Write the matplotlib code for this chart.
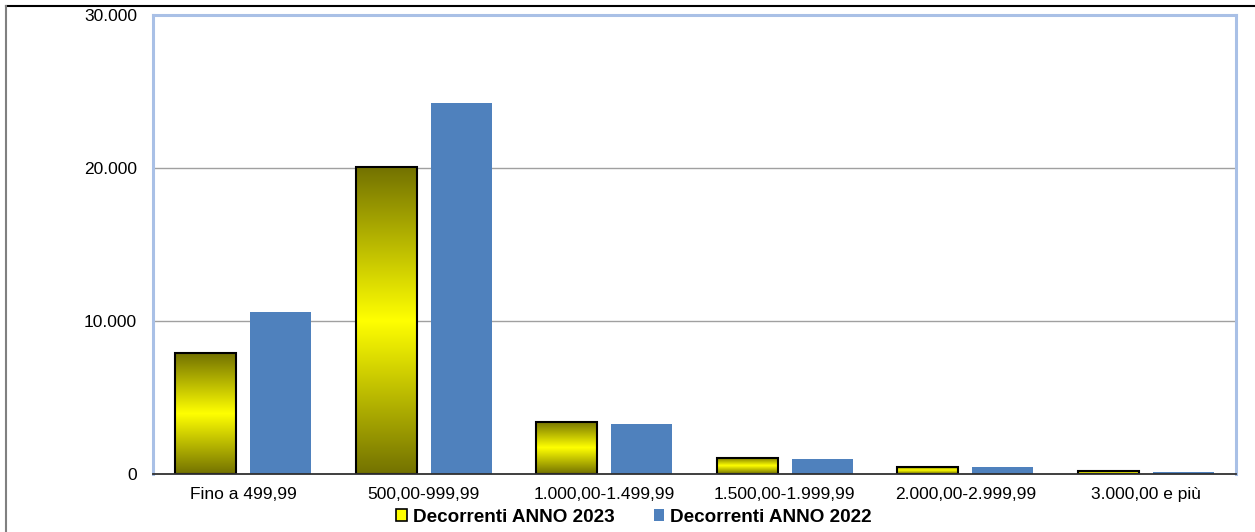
import matplotlib
matplotlib.use("Agg")
import matplotlib.pyplot as plt
import numpy as np
from matplotlib.colors import LinearSegmentedColormap
from matplotlib.patches import Patch
from matplotlib.lines import Line2D
from matplotlib.ticker import FuncFormatter

categories = ["Fino a 499,99", "500,00-999,99", "1.000,00-1.499,99",
              "1.500,00-1.999,99", "2.000,00-2.999,99", "3.000,00 e più"]
anno_2023 = [7900, 20050, 3400, 1050, 480, 180]
anno_2022 = [10600, 24250, 3300, 1000, 430, 150]
series_labels = ["Decorrenti ANNO 2023", "Decorrenti ANNO 2022"]
yticks = [0, 10000, 20000, 30000]

plt.rcParams['font.family'] = ['Liberation Sans', 'DejaVu Sans']

W, H = 1255, 532
fig = plt.figure(figsize=(W/100, H/100), dpi=100)
ax = fig.add_axes([153/W, 1-474/H, (1236-153)/W, (474-15)/H])

x = np.arange(len(categories))
bw = 0.34
off = 0.208

cmap = LinearSegmentedColormap.from_list("olive_yel", ["#737200", "#FFFF00", "#737200"])
grad = np.linspace(0, 1, 256).reshape(-1, 1)

bars23 = ax.bar(x - off, anno_2023, bw, facecolor='none', edgecolor='black', linewidth=1.5, zorder=4)
for b in bars23:
    x0, y0, w, h = b.get_x(), b.get_y(), b.get_width(), b.get_height()
    ax.imshow(grad, cmap=cmap, aspect='auto', extent=[x0, x0 + w, y0, y0 + h],
              origin='upper', zorder=3, interpolation='bilinear')
ax.bar(x + off, anno_2022, bw, color='#4F81BD', zorder=3)

ax.set_xlim(-0.5, len(categories) - 0.5)
ax.set_ylim(0, 30000)
ax.set_yticks(yticks)
ax.yaxis.set_major_formatter(FuncFormatter(lambda v, p: f"{int(v):,}".replace(",", ".")))
ax.set_xticks(x)
ax.set_xticklabels(categories)
ax.tick_params(axis='both', length=0, labelsize=12.5, colors='black')
ax.tick_params(axis='y', pad=11.5)
ax.tick_params(axis='x', pad=9.5)

for v in yticks[1:3]:
    ax.axhline(v, color='#A0A0A0', linewidth=1.0, zorder=1)

for s in ['left', 'top', 'right']:
    ax.spines[s].set_color('#A9C0E6')
    ax.spines[s].set_linewidth(2.2)
ax.spines['bottom'].set_color('#303030')
ax.spines['bottom'].set_linewidth(1.3)
ax.spines['bottom'].set_zorder(5)

handles = [Patch(facecolor='#FFFF00', edgecolor='black', linewidth=1.2),
           Patch(facecolor='#4F81BD', edgecolor='none')]
fig.legend(handles, series_labels, loc='center', bbox_to_anchor=(634/W, 1-517/H),
           ncol=2, frameon=False, prop={'weight': 'bold', 'size': 13.6},
           handlelength=0.55, handleheight=0.55, handletextpad=0.3, columnspacing=2.1,
           borderaxespad=0, borderpad=0)

fig.add_artist(Line2D([6/W, 1], [1-6/H, 1-6/H], color='black', linewidth=1.5, transform=fig.transFigure))
fig.add_artist(Line2D([6/W, 6/W], [0, 1-6/H], color='#808080', linewidth=1.5, transform=fig.transFigure))

fig.savefig("out.png", dpi=100)
